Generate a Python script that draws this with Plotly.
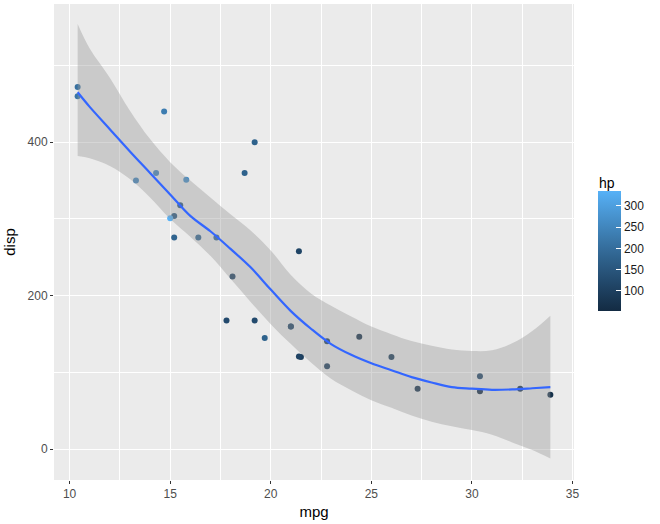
import numpy as np
import plotly.graph_objects as go

# mtcars data
mpg = [21.0, 21.0, 22.8, 21.4, 18.7, 18.1, 14.3, 24.4, 22.8, 19.2, 17.8, 16.4, 17.3, 15.2,
       10.4, 10.4, 14.7, 32.4, 30.4, 33.9, 21.5, 15.5, 15.2, 13.3, 19.2, 27.3, 26.0, 30.4,
       15.8, 19.7, 15.0, 21.4]
disp = [160, 160, 108, 258, 360, 225, 360, 146.7, 140.8, 167.6, 167.6, 275.8, 275.8, 275.8,
        472, 460, 440, 78.7, 75.7, 71.1, 120.1, 318, 304, 350, 400, 79, 120.3, 95.1,
        351, 145, 301, 121]
hp = [110, 110, 93, 110, 175, 105, 245, 62, 95, 123, 123, 180, 180, 180,
      205, 215, 230, 66, 52, 65, 97, 150, 150, 245, 175, 66, 91, 113,
      264, 175, 335, 109]

# loess smooth
smooth_x = [10.4, 11, 12, 13, 14, 15, 16, 17, 18, 19, 20, 21, 22, 23, 24, 25, 26, 27, 28,
            29, 30, 31, 32, 33, 33.9]
smooth_fit = [465, 446, 417, 388, 360, 332, 304, 284, 261, 237, 208, 180, 157, 137, 123,
              112, 103, 94, 87, 81, 79, 77.5, 78, 79.5, 81]
smooth_hi = [554, 522, 484, 441, 404, 374, 350, 328, 306, 285, 259, 227, 203, 187, 173,
             160, 150, 141, 135, 130, 128, 129, 138, 154, 174]
smooth_lo = [382, 379, 369, 352, 328, 300, 277, 252, 222, 192, 163, 137, 113, 92, 77,
             64, 54, 44, 36, 30, 25, 19, 9, -1, -12]

x_ticks = [10, 15, 20, 25, 30, 35]
y_ticks = [0, 200, 400]
hp_ticks = [100, 150, 200, 250, 300]

low_col, high_col = "#132B43", "#56B1F7"


# ggplot-style Lab interpolation of the gradient
def hex2rgb(h):
    h = h.lstrip('#')
    return np.array([int(h[i:i + 2], 16) / 255 for i in (0, 2, 4)])


M = np.array([[0.4124, 0.3576, 0.1805], [0.2126, 0.7152, 0.0722], [0.0193, 0.1192, 0.9505]])
WP = np.array([0.95047, 1.0, 1.08883])


def rgb2lab(c):
    lin = np.where(c <= 0.04045, c / 12.92, ((c + 0.055) / 1.055) ** 2.4)
    xyz = M @ lin / WP
    f = np.where(xyz > 216 / 24389, np.cbrt(xyz), (24389 / 27 * xyz + 16) / 116)
    return np.array([116 * f[1] - 16, 500 * (f[0] - f[1]), 200 * (f[1] - f[2])])


def lab2rgb(lab):
    fy = (lab[0] + 16) / 116
    fx = fy + lab[1] / 500
    fz = fy - lab[2] / 200
    f = np.array([fx, fy, fz])
    xyz = np.where(f ** 3 > 216 / 24389, f ** 3, (116 * f - 16) / (24389 / 27)) * WP
    lin = np.linalg.solve(M, xyz)
    lin = np.clip(lin, 0, 1)
    c = np.where(lin <= 0.0031308, 12.92 * lin, 1.055 * lin ** (1 / 2.4) - 0.055)
    c = np.clip(c, 0, 1)
    return "rgb(%d,%d,%d)" % tuple(np.round(c * 255).astype(int))


la, lb = rgb2lab(hex2rgb(low_col)), rgb2lab(hex2rgb(high_col))
stops = np.linspace(0, 1, 11)
colorscale = [[float(t), lab2rgb(la + (lb - la) * t)] for t in stops]

cb_x, cb_top, cb_thick, cb_len = 1.0456, 0.607, 23, 120
cmin, cmax = min(hp), max(hp)

fig = go.Figure()

fig.add_trace(go.Scatter(
    x=mpg, y=disp, mode="markers",
    marker=dict(size=6, color=hp, colorscale=colorscale, cmin=cmin, cmax=cmax,
                line=dict(width=0),
                colorbar=dict(
                    x=cb_x, xanchor="left", y=cb_top, yanchor="top",
                    thickness=cb_thick, len=cb_len, lenmode="pixels",
                    xpad=0, ypad=0, outlinewidth=0,
                    tickvals=hp_ticks, ticks="inside", ticklen=5, tickcolor="white",
                    tickwidth=1, tickprefix="\u00a0\u00a0",
                    tickfont=dict(family="Liberation Sans, Arial", size=12, color="#1A1A1A"),
                )),
    showlegend=False, hoverinfo="x+y",
))

fig.add_trace(go.Scatter(
    x=smooth_x, y=smooth_lo, mode="lines", line=dict(width=0, shape="spline"),
    showlegend=False, hoverinfo="skip",
))
fig.add_trace(go.Scatter(
    x=smooth_x, y=smooth_hi, mode="lines", line=dict(width=0, shape="spline"),
    fill="tonexty", fillcolor="rgba(153,153,153,0.4)",
    showlegend=False, hoverinfo="skip",
))

fig.add_trace(go.Scatter(
    x=smooth_x, y=smooth_fit, mode="lines",
    line=dict(color="#3366FF", width=2.2, shape="spline"), showlegend=False,
))

axis_font = dict(family="Liberation Sans, Arial", size=12, color="#4D4D4D")
title_font = dict(family="Liberation Sans, Arial", size=15, color="black")

fig.update_layout(
    width=660, height=524,
    margin=dict(l=54, r=86, t=4, b=44),
    paper_bgcolor="white", plot_bgcolor="#EBEBEB",
    annotations=[dict(text="hp", xref="paper", yref="paper", x=cb_x - 0.001, y=0.624,
                      xanchor="left", yanchor="middle", showarrow=False,
                      font=dict(family="Liberation Sans, Arial", size=14, color="black"))],
)
fig.update_xaxes(
    range=[9.225, 35.075], tickvals=x_ticks, showgrid=True, gridcolor="white", gridwidth=1.1,
    zeroline=False, ticks="outside", ticklen=3, tickcolor="#333333", tickwidth=1,
    tickfont=axis_font, title=dict(text="mpg", font=title_font, standoff=6),
    minor=dict(dtick=2.5, tick0=0, showgrid=True, gridcolor="white", gridwidth=0.5),
    showline=False,
)
fig.update_yaxes(
    range=[-40, 580], tickvals=y_ticks, showgrid=True, gridcolor="white", gridwidth=1.1,
    zeroline=False, ticks="outside", ticklen=3, tickcolor="#333333", tickwidth=1,
    tickfont=axis_font, title=dict(text="disp", font=title_font, standoff=8),
    minor=dict(dtick=100, tick0=0, showgrid=True, gridcolor="white", gridwidth=0.5),
    showline=False,
)

fig.write_html("out.html")
